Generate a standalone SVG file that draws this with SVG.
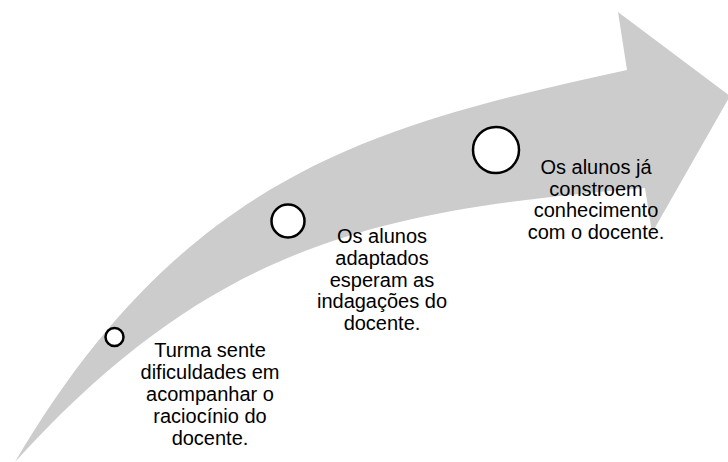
<svg xmlns="http://www.w3.org/2000/svg" width="728" height="462" viewBox="0 0 728 462">
<style>
.arrow{fill:#cccccc;stroke:none}
.dot{fill:#ffffff;stroke:#000000;stroke-width:2.5}
.lbl{font-family:"Liberation Sans",Arial,sans-serif;font-size:20px;fill:#000000;text-anchor:middle}
</style>
<rect width="728" height="462" fill="#ffffff"/>
<g id="arrow">
<path class="arrow" d="M15,462 C185,173 375,125 627,70 L618,12 L730,96 L652,233 L645,188 C380,210 215,242 15,462 Z"/>
</g>
<g id="connectors"></g>
<g id="step1">
<circle class="dot" cx="114.5" cy="337" r="9"/>
<text class="lbl" x="210" y="357">Turma sente</text>
<text class="lbl" x="210" y="379">dificuldades em</text>
<text class="lbl" x="210" y="401">acompanhar o</text>
<text class="lbl" x="210" y="423">raciocínio do</text>
<text class="lbl" x="210" y="445">docente.</text>
</g>
<g id="step2">
<circle class="dot" cx="288" cy="221" r="16.5"/>
<text class="lbl" x="382" y="243">Os alunos</text>
<text class="lbl" x="382" y="265">adaptados</text>
<text class="lbl" x="382" y="287">esperam as</text>
<text class="lbl" x="382" y="308">indagações do</text>
<text class="lbl" x="382" y="330">docente.</text>
</g>
<g id="step3">
<circle class="dot" cx="496" cy="150" r="23"/>
<text class="lbl" x="596" y="174">Os alunos já</text>
<text class="lbl" x="596" y="196">constroem</text>
<text class="lbl" x="596" y="217">conhecimento</text>
<text class="lbl" x="596" y="239">com o docente.</text>
</g>
</svg>
